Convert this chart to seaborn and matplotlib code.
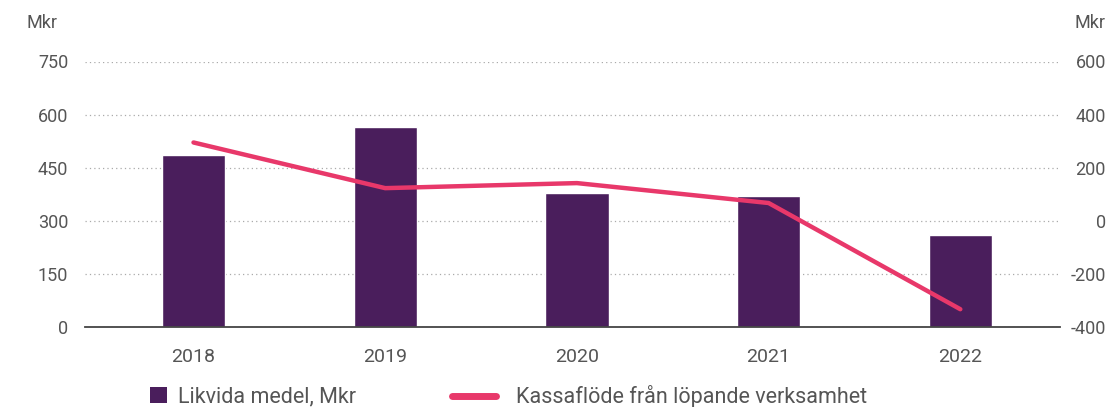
import matplotlib
matplotlib.use("Agg")
import matplotlib.pyplot as plt
from matplotlib.patches import Patch
from matplotlib.lines import Line2D
import numpy as np
import pandas as pd
import seaborn as sns

# data
years = ["2018", "2019", "2020", "2021", "2022"]
likvida_medel = [486, 566, 378, 370, 260]  # Mkr, left axis
kassaflode = [295, 123, 142, 67, -333]  # Mkr, right axis
left_ticks = [0, 150, 300, 450, 600, 750]
right_ticks = [-400, -200, 0, 200, 400, 600]

purple = "#4a1e5c"
pink = "#e8386a"
grey_text = "#555555"

sns.set_theme(style="white")
plt.rcParams["font.family"] = ["Roboto", "DejaVu Sans"]
plt.rcParams["axes.unicode_minus"] = False

df = pd.DataFrame({"year": years, "likvida": likvida_medel,
                   "kassa": kassaflode, "pos": np.arange(len(years))})

fig = plt.figure(figsize=(11.15, 4.07), dpi=100)
ax = fig.add_axes([85 / 1115, 1 - 327 / 407, 975 / 1115, (327 - 61.5) / 407])

sns.barplot(data=df, x="year", y="likvida", color=purple, width=0.33,
            saturation=1, ax=ax, zorder=2)
ax.set_xlim(-0.566, 4.52)
ax.set_ylim(0, 750)
ax.set_yticks(left_ticks)
ax.set_xlabel("")
ax.set_ylabel("")
ax.grid(axis="y", linestyle=(0, (1, 2.5)), color="#aaaaaa", linewidth=0.9, zorder=0)
ax.set_axisbelow(True)
for s in ["top", "right", "left"]:
    ax.spines[s].set_visible(False)
ax.spines["bottom"].set_color("#444444")
ax.spines["bottom"].set_linewidth(1.3)
ax.tick_params(axis="y", length=0, pad=12, labelsize=13, labelcolor=grey_text)
ax.tick_params(axis="x", length=0, pad=15, labelsize=14, labelcolor=grey_text)

# cash flow line on the right axis
ax2 = ax.twinx()
sns.lineplot(data=df, x="pos", y="kassa", color=pink, linewidth=3.2, ax=ax2,
             solid_capstyle="round", solid_joinstyle="round")
ax2.set_ylim(-400, 600)
ax2.set_yticks(right_ticks)
ax2.set_ylabel("")
for s in ["top", "right", "left", "bottom"]:
    ax2.spines[s].set_visible(False)
ax2.tick_params(axis="y", length=0, pad=33, labelsize=13, labelcolor=grey_text)
plt.setp(ax2.get_yticklabels(), ha="right")
ax2.set_xlim(-0.566, 4.52)

fig.text(27 / 1115, 1 - 22.5 / 407, "Mkr", ha="left", va="center",
         fontsize=13, color=grey_text)
fig.text(1106 / 1115, 1 - 22.5 / 407, "Mkr", ha="right", va="center",
         fontsize=13, color=grey_text)

# legend, two pieces so each handle gets its own size
leg1 = fig.legend(handles=[Patch(facecolor=purple, edgecolor="none")],
                  labels=["Likvida medel, Mkr"], loc="center left",
                  bbox_to_anchor=(150 / 1115, 1 - 397 / 407), frameon=False,
                  fontsize=15.5, handlelength=0.78, handleheight=0.78,
                  handletextpad=0.5, borderpad=0, borderaxespad=0,
                  labelcolor=grey_text)
leg2 = fig.legend(handles=[Line2D([0], [0], color=pink, linewidth=5,
                                  solid_capstyle="round")],
                  labels=["Kassaflöde från löpande verksamhet"], loc="center left",
                  bbox_to_anchor=(452 / 1115, 1 - 397 / 407), frameon=False,
                  fontsize=15.5, handlelength=2.05, handletextpad=0.9,
                  borderpad=0, borderaxespad=0, labelcolor=grey_text)

fig.savefig("out.png", dpi=100)
